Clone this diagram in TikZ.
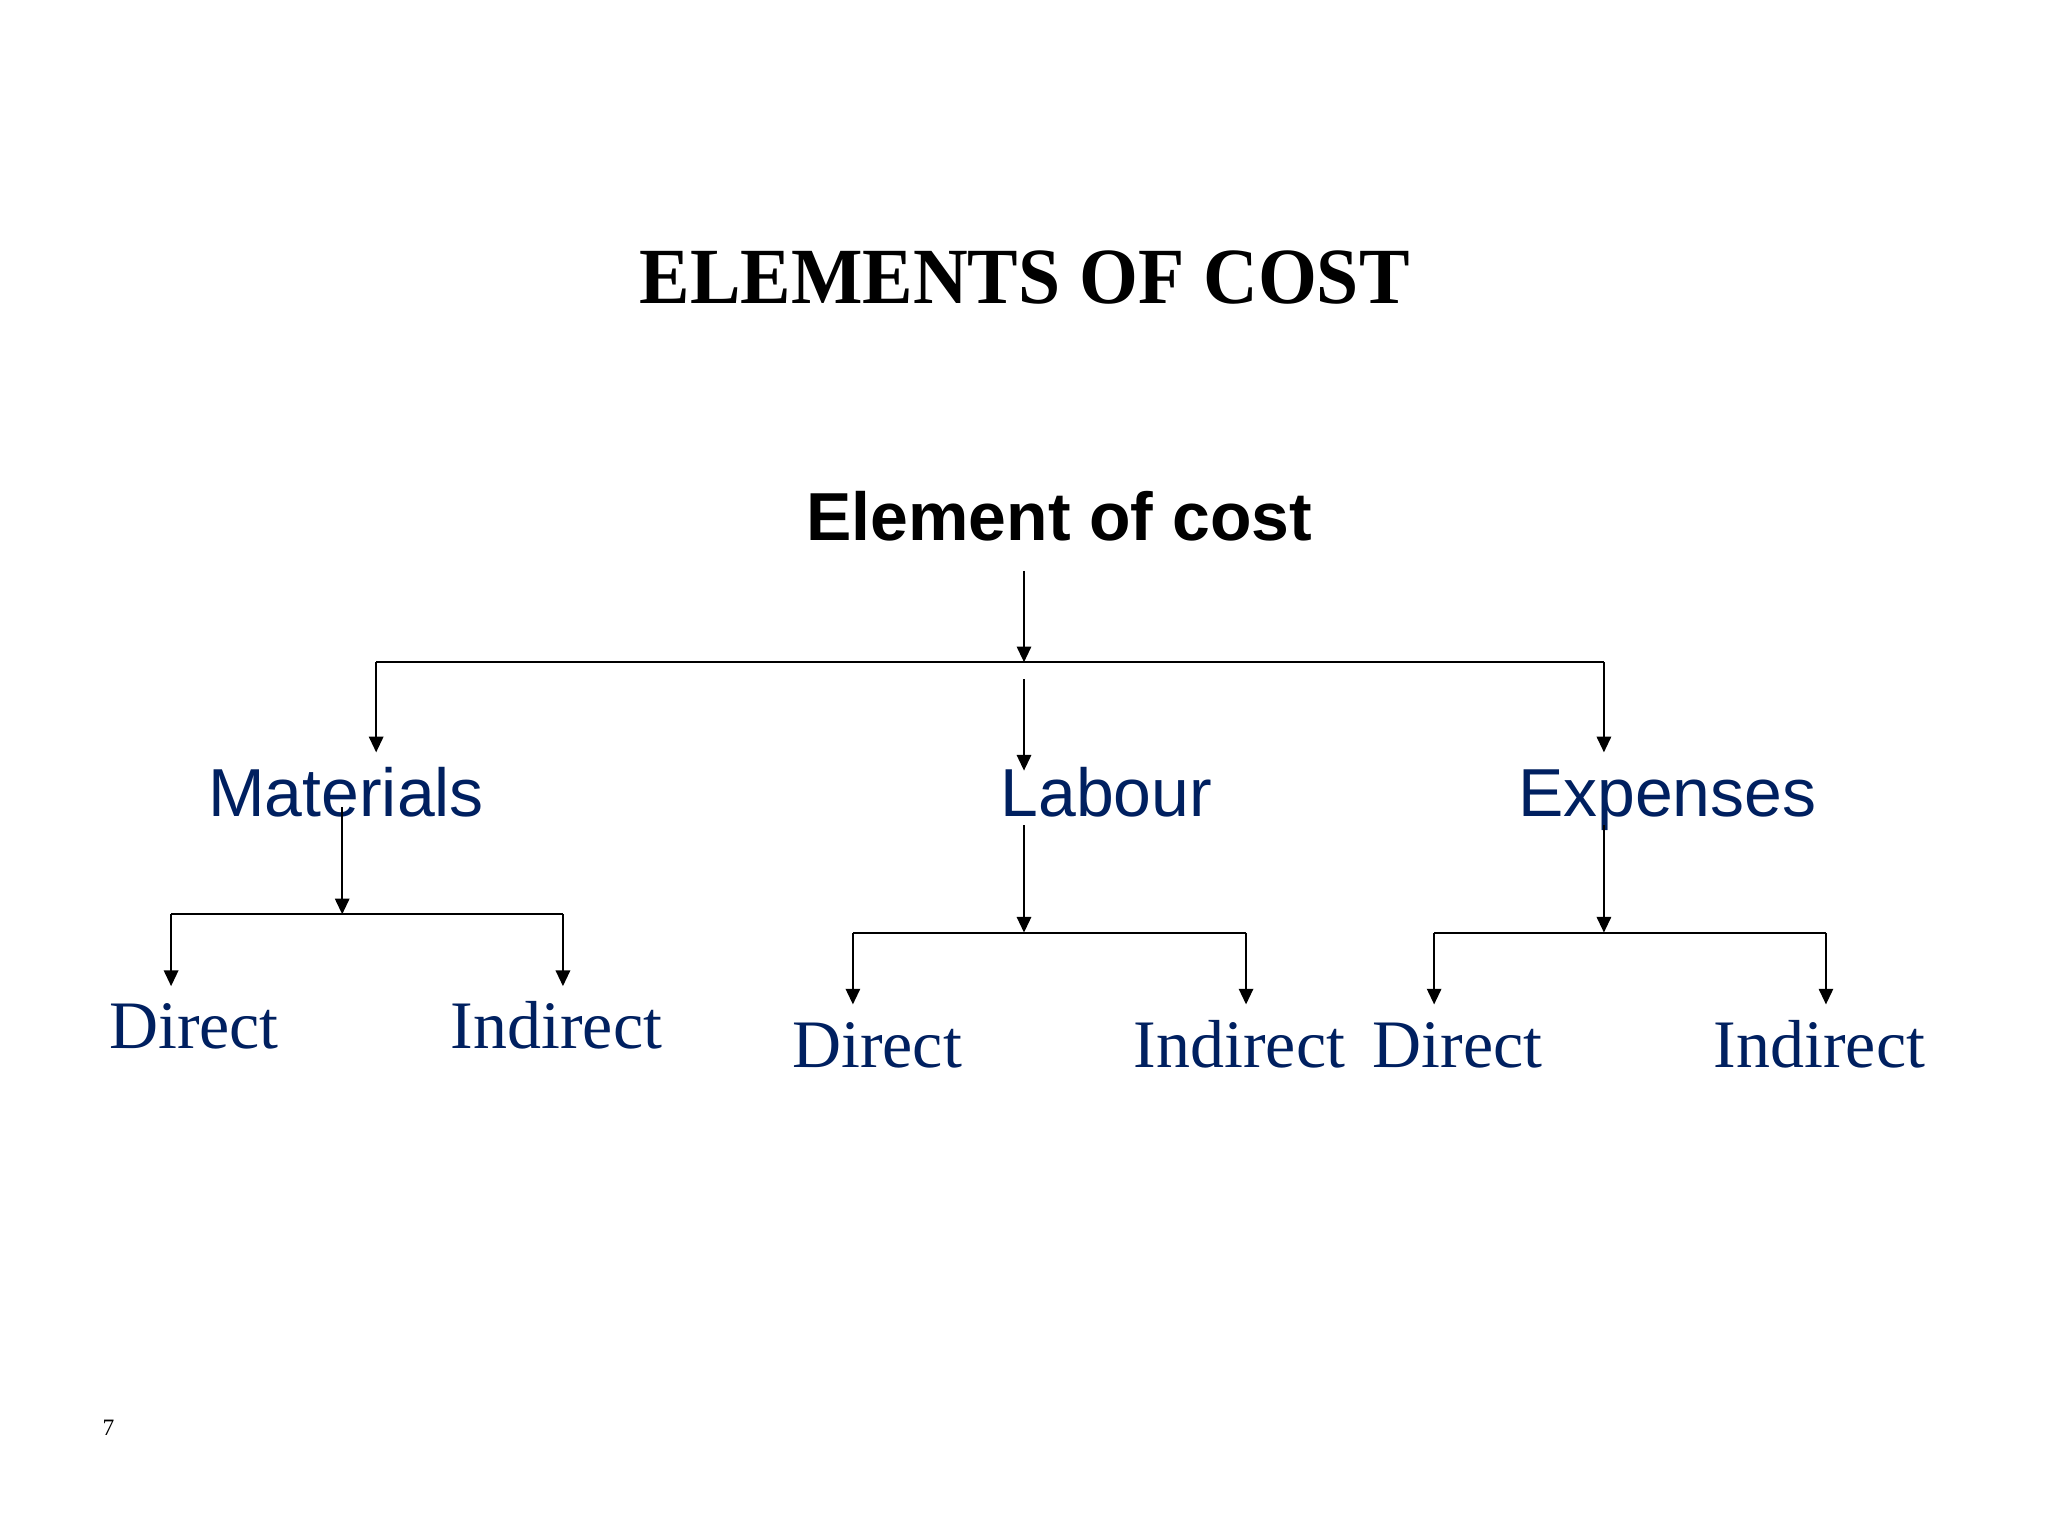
\documentclass[tikz,border=0pt]{standalone}
\usepackage{fontspec}
\setmainfont{Liberation Serif}
\setsansfont{Liberation Sans}
\usetikzlibrary{arrows.meta}
\definecolor{navy}{HTML}{002060}
\begin{document}
\begin{tikzpicture}[x=1pt,y=-1pt,
  lbl/.style={anchor=base,inner sep=0pt,outer sep=0pt},
  sans/.style={lbl,text=navy,font=\sffamily\fontsize{52}{60}\selectfont},
  serif/.style={lbl,text=navy,font=\rmfamily\fontsize{52}{60}\selectfont},
  conn/.style={line width=1.5pt,draw=black},
  arr/.style={conn,-{Triangle[length=12pt,width=11pt]}}]
\useasboundingbox[fill=white] (0,0) rectangle (1568,1176);
% texts
\node[lbl,font=\rmfamily\bfseries\fontsize{61}{70}\selectfont] (title) at (784.5,232) {\scalebox{0.95}[1]{ELEMENTS OF COST}};
\node[lbl,font=\sffamily\bfseries\fontsize{52}{60}\selectfont] (root) at (811,414) {Element of cost};
\node[sans] (mat) at (265,625) {Materials};
\node[sans] (lab) at (847,625) {Labour};
\node[sans] (exp) at (1276.5,625) {Expenses};
\node[serif] (md) at (148.5,803) {Direct};
\node[serif] (mi) at (426,803) {Indirect};
\node[serif] (ld) at (671.5,817) {Direct};
\node[serif] (li) at (949,817) {Indirect};
\node[serif] (ed) at (1116,817) {Direct};
\node[serif] (ei) at (1393,817) {Indirect};
\node[lbl,font=\rmfamily\fontsize{18}{20}\selectfont] (pg) at (83,1099) {7};
% coordinates
\coordinate (r0) at (784,437);
\coordinate (j0) at (784,507);
\coordinate (jl) at (288,507);
\coordinate (jr) at (1228,507);
\coordinate (tm) at (288,576);
\coordinate (lb0) at (784,520);
\coordinate (tl) at (784,590);
\coordinate (te) at (1228,576);
\coordinate (m0) at (262,618);
\coordinate (m1) at (262,700);
\coordinate (ml) at (131,700);
\coordinate (mr) at (431,700);
\coordinate (mdt) at (131,755);
\coordinate (mit) at (431,755);
\coordinate (l0) at (784,632);
\coordinate (l1) at (784,714);
\coordinate (ll) at (653,714);
\coordinate (lr) at (954,714);
\coordinate (ldt) at (653,769);
\coordinate (lit) at (954,769);
\coordinate (e0) at (1228,632);
\coordinate (e1) at (1228,714);
\coordinate (el) at (1098,714);
\coordinate (er) at (1398,714);
\coordinate (edt) at (1098,769);
\coordinate (eit) at (1398,769);
% connectors
\draw[arr] (r0) -- (j0);
\draw[conn] (jl) -- (jr);
\draw[arr] (jl) -- (tm);
\draw[arr] (lb0) -- (tl);
\draw[arr] (jr) -- (te);
\draw[arr] (m0) -- (m1);
\draw[conn] (ml) -- (mr);
\draw[arr] (ml) -- (mdt);
\draw[arr] (mr) -- (mit);
\draw[arr] (l0) -- (l1);
\draw[conn] (ll) -- (lr);
\draw[arr] (ll) -- (ldt);
\draw[arr] (lr) -- (lit);
\draw[arr] (e0) -- (e1);
\draw[conn] (el) -- (er);
\draw[arr] (el) -- (edt);
\draw[arr] (er) -- (eit);
\end{tikzpicture}
\end{document}
